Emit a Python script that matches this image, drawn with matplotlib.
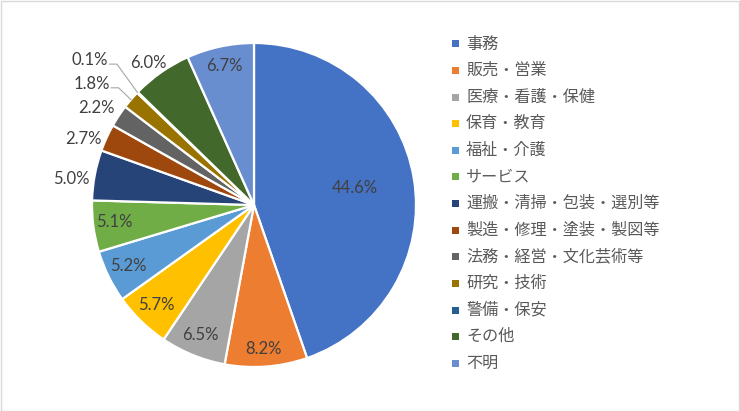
import matplotlib
matplotlib.use("Agg")
import matplotlib.pyplot as plt
import numpy as np
from matplotlib.patches import Rectangle

categories = ["事務", "販売・営業", "医療・看護・保健", "保育・教育", "福祉・介護", "サービス",
              "運搬・清掃・包装・選別等", "製造・修理・塗装・製図等", "法務・経営・文化芸術等",
              "研究・技術", "警備・保安", "その他", "不明"]
values = [44.6, 8.2, 6.5, 5.7, 5.2, 5.1, 5.0, 2.7, 2.2, 1.8, 0.1, 6.0, 6.7]
labels = ["44.6%", "8.2%", "6.5%", "5.7%", "5.2%", "5.1%", "5.0%", "2.7%", "2.2%", "1.8%", "0.1%", "6.0%", "6.7%"]
colors = ["#4472C4", "#ED7D31", "#A5A5A5", "#FFC000", "#5B9BD5", "#70AD47", "#264478",
          "#9E480E", "#636363", "#997300", "#255E91", "#43682B", "#698ED0"]

# label placement style: radius factor and angle adjustment (deg)
lab_r = [0.63, 0.89, 0.87, 0.86, 0.86, 0.87, 1.14, 1.13, 1.14, 1.25, 1.35, 1.09, 0.88]
lab_da = [0, -0.7, -0.2, -0.2, -0.4, -0.6, 2.5, 3.4, 1.7, 3.8, 2.5, 1.7, 0]
leader = [False] * 9 + [True, True, False, False]

W, H = 740, 411
fig = plt.figure(figsize=(W / 100, H / 100), dpi=100)
fig.patch.set_facecolor("white")
fig.add_artist(Rectangle((0.5 / W, 0.5 / H), 1 - 1.5 / W, 1 - 1.5 / H, transform=fig.transFigure,
                         fill=False, edgecolor="#D9D9D9", linewidth=1))

cx, cy, R = 254, 205, 162
ax = fig.add_axes([(cx - R) / W, (H - cy - R) / H, 2 * R / W, 2 * R / H])
ax.axis("off")

wedges, _ = ax.pie(values, colors=colors, startangle=90, counterclock=False, radius=1,
                   wedgeprops=dict(edgecolor="white", linewidth=1.6), normalize=True)
ax.set_aspect("auto")
ax.set_xlim(-1, 1)
ax.set_ylim(-1, 1)

total = sum(values)
cum = 0
for i, v in enumerate(values):
    mid = cum + v / 2
    cum += v
    ang = np.deg2rad(90 - mid / total * 360 + lab_da[i])
    r = lab_r[i]
    x, y = r * np.cos(ang), r * np.sin(ang)
    ax.text(x, y, labels[i], ha="center", va="center", fontsize=12, color="#404040",
            family=["Lato", "DejaVu Sans"], clip_on=False)
    if leader[i]:
        a0 = np.deg2rad(90 - mid / total * 360)
        ex, ey = np.cos(a0), np.sin(a0)
        sx = x + 0.12
        ax.plot([sx, sx + 0.045, ex], [y - 0.025, y - 0.025, ey], color="#A6A6A6", lw=0.8, clip_on=False)

# legend
lx, ly0, dy = 455, 44, 26.6
for i, c in enumerate(categories):
    y = ly0 + i * dy
    fig.add_artist(Rectangle(((lx - 3.5) / W, (H - y - 3.5) / H), 7 / W, 7 / H,
                             transform=fig.transFigure, facecolor=colors[i], edgecolor="none"))
    fig.text((lx + 11) / W, (H - y) / H, c, ha="left", va="center", fontsize=11.6, color="#595959",
             family=["Noto Sans CJK JP", "DejaVu Sans"])

fig.savefig("out.png", dpi=100)
